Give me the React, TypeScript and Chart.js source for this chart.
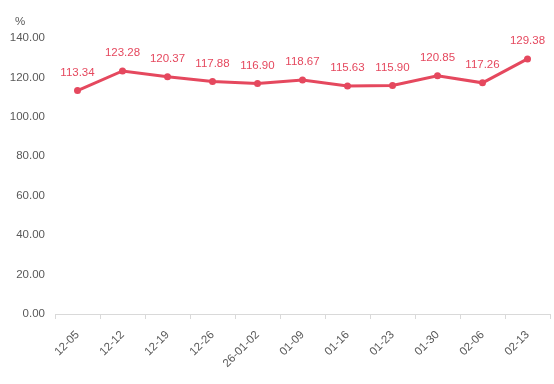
import React, { useEffect, useRef } from "react";
import { Chart, registerables } from "chart.js";

Chart.register(...registerables);

const categories = ["12-05", "12-12", "12-19", "12-26", "26-01-02", "01-09", "01-16", "01-23", "01-30", "02-06", "02-13"];
const values = [113.34, 123.28, 120.37, 117.88, 116.9, 118.67, 115.63, 115.9, 120.85, 117.26, 129.38];
const yTicks = [0, 20, 40, 60, 80, 100, 120, 140];
const unitLabel = "%";

const LINE = "#e5485e";
const TEXT = "#595959";
const FONT = "Liberation Sans, Arial, sans-serif";

const labelPlugin = {
  id: "labels",
  afterDatasetsDraw(chart: any) {
    const ctx = chart.ctx;
    const meta = chart.getDatasetMeta(0);
    ctx.save();
    ctx.font = `11.5px ${FONT}`;
    ctx.fillStyle = LINE;
    ctx.textAlign = "center";
    ctx.textBaseline = "middle";
    meta.data.forEach((pt: any, i: number) => {
      ctx.fillText(values[i].toFixed(2), pt.x, pt.y - 18);
    });
    ctx.fillStyle = TEXT;
    ctx.textAlign = "left";
    ctx.fillText(unitLabel, 15, 22);
    ctx.restore();
  },
};

export default function App() {
  const ref = useRef<HTMLCanvasElement>(null);
  useEffect(() => {
    document.body.style.margin = "0";
    const chart = new Chart(ref.current!, {
      type: "line",
      data: {
        labels: categories,
        datasets: [
          {
            data: values,
            borderColor: LINE,
            backgroundColor: LINE,
            borderWidth: 3,
            pointRadius: 3.5,
            pointBackgroundColor: LINE,
            pointBorderWidth: 0,
            tension: 0,
          },
        ],
      },
      options: {
        animation: false,
        responsive: false,
        devicePixelRatio: 1,
        layout: { padding: { top: 38, right: 4, left: 0, bottom: 0 } },
        plugins: { legend: { display: false }, tooltip: { enabled: false } },
        scales: {
          x: {
            offset: true,
            grid: { display: true, drawOnChartArea: false, offset: true, color: "#d9d9d9", tickLength: 5 },
            border: { display: true, color: "#d9d9d9" },
            ticks: {
              color: TEXT,
              font: { size: 11.5, family: FONT },
              maxRotation: 45,
              minRotation: 45,
              autoSkip: false,
              padding: 9,
            },
            afterFit: (s: any) => {
              s.height = 70;
            },
          },
          y: {
            min: 0,
            max: 140,
            afterBuildTicks: (s: any) => {
              s.ticks = yTicks.map((v) => ({ value: v }));
            },
            grid: { display: false },
            border: { display: false },
            ticks: {
              color: TEXT,
              font: { size: 11.5, family: FONT },
              padding: 2,
              callback: (v: any) => Number(v).toFixed(2),
            },
            afterFit: (s: any) => {
              s.width = 55;
            },
          },
        },
      },
      plugins: [labelPlugin],
    });
    return () => chart.destroy();
  }, []);
  return (
    <div style={{ width: 554, height: 384 }}>
      <canvas ref={ref} width={554} height={384} style={{ width: 554, height: 384 }} />
    </div>
  );
}
